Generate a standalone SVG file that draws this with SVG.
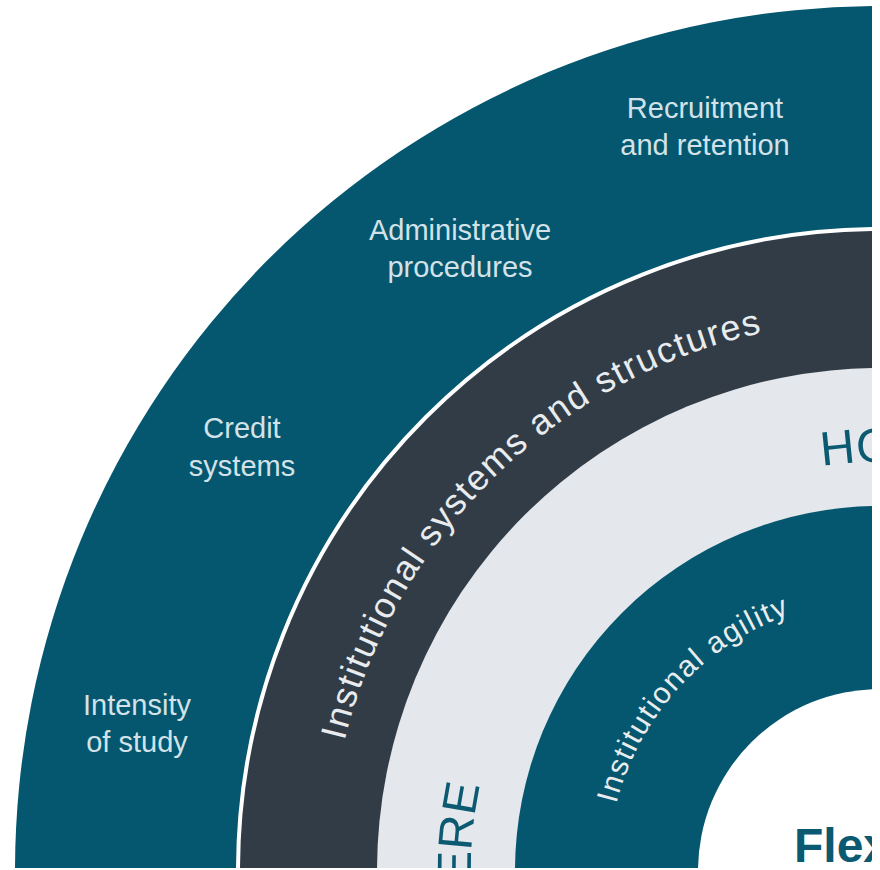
<svg xmlns="http://www.w3.org/2000/svg" width="880" height="870" viewBox="0 0 880 870">
<defs>
<clipPath id="clip"><rect x="0" y="0" width="872" height="868"/></clipPath>
<path id="p-dark" d="M 880 1422 A 551 551 0 0 1 329 871 A 551 551 0 0 1 880 320"/>
<path id="p-light" d="M 880 1280 A 409 409 0 0 1 471 871 A 409 409 0 0 1 880 462 A 409 409 0 0 1 1289 871"/>
<path id="p-inner" d="M 880 1143 A 272 272 0 0 1 608 871 A 272 272 0 0 1 880 599"/>
</defs>
<style>
.teal{fill:#04576E}
.dark{fill:#323C46;stroke:#FFFFFF;stroke-width:4}
.light{fill:#E4E8ED}
.lbl{font-family:"Liberation Sans",Arial,sans-serif;font-size:29px;fill:#D3E2E8;text-anchor:middle}
.arc{font-family:"Liberation Sans",Arial,sans-serif;fill:#E8ECEF}
.ring{font-family:"Liberation Sans",Arial,sans-serif;font-size:48px;fill:#0B5A72}
</style>
<rect width="880" height="870" fill="#FFFFFF"/>
<g clip-path="url(#clip)">
<g id="ring-outer"><circle class="teal" cx="880" cy="871" r="865"/></g>
<g id="ring-systems"><circle class="dark" cx="880" cy="871" r="642"/></g>
<g id="ring-how"><circle class="light" cx="880" cy="871" r="503"/></g>
<g id="ring-agility"><circle class="teal" cx="880" cy="871" r="365"/></g>
<g id="center"><circle cx="880" cy="871" r="182" fill="#FFFFFF"/></g>
<g id="labels-outer">
<text class="lbl" x="705" y="118">Recruitment<tspan x="705" y="155">and retention</tspan></text>
<text class="lbl" x="460" y="240">Administrative<tspan x="460" y="277">procedures</tspan></text>
<text class="lbl" x="242" y="438">Credit<tspan x="242" y="476">systems</tspan></text>
<text class="lbl" x="137" y="715">Intensity<tspan x="137" y="752">of study</tspan></text>
</g>
<g id="label-systems">
<text class="arc" font-size="36" letter-spacing="1.5"><textPath href="#p-dark" startOffset="1305" text-anchor="middle">Institutional systems and structures</textPath></text>
</g>
<g id="label-how">
<text class="ring"><textPath href="#p-light" startOffset="729" text-anchor="end">ERE</textPath></text>
<text class="ring"><textPath href="#p-light" startOffset="1226">HO</textPath></text>
</g>
<g id="label-agility">
<text class="arc" font-size="30" letter-spacing="1.5"><textPath href="#p-inner" startOffset="629" text-anchor="middle">Institutional agility</textPath></text>
</g>
<g id="label-center">
<text x="794" y="862" font-family="'Liberation Sans',Arial,sans-serif" font-weight="bold" font-size="48" fill="#0B5A72">Flex</text>
</g>
</g>
</svg>
